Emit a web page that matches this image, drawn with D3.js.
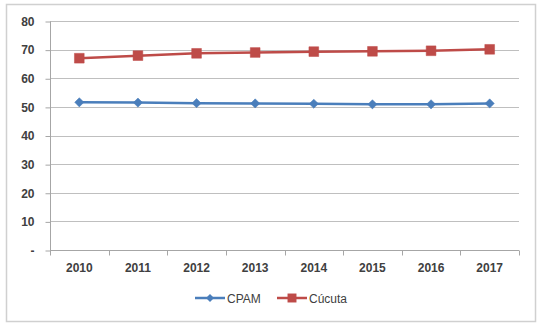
<!DOCTYPE html>
<html>
<head>
<meta charset="utf-8">
<script src="https://cdn.jsdelivr.net/npm/d3@7"></script>
<style>
  html, body { margin: 0; padding: 0; background: #fff; }
  svg { display: block; }
  text { font-family: "Liberation Sans", Arial, sans-serif; fill: #404040; }
</style>
</head>
<body>
<svg id="chart" width="543" height="328"></svg>
<script>
const years = ["2010", "2011", "2012", "2013", "2014", "2015", "2016", "2017"];
const cpam = [51.6, 51.5, 51.3, 51.2, 51.1, 50.9, 50.9, 51.2];
const cucuta = [67.0, 67.9, 68.7, 69.0, 69.3, 69.4, 69.6, 70.1];
const yTicks = [0, 10, 20, 30, 40, 50, 60, 70, 80];
const seriesNames = ["CPAM", "Cúcuta"];
const seriesColors = ["#4a7ebb", "#be4b48"];

(function () {
  const svg = d3.select("#chart");

  // outer chart frame
  svg.append("rect")
    .attr("x", 6.5).attr("y", 4.5)
    .attr("width", 529).attr("height", 317)
    .attr("fill", "#fff").attr("stroke", "#d0d0d0").attr("stroke-width", 1.5);

  const plotLeft = 50, plotRight = 519, plotTop = 21, plotBottom = 250;

  const x = d3.scaleBand().domain(years).range([plotLeft, plotRight]);
  const y = d3.scaleLinear().domain([0, 80]).range([plotBottom, plotTop]);

  // horizontal gridlines
  svg.append("g")
    .selectAll("line")
    .data(yTicks.filter(d => d > 0))
    .join("line")
    .attr("x1", plotLeft).attr("x2", plotRight)
    .attr("y1", d => Math.round(y(d)) + 0.5).attr("y2", d => Math.round(y(d)) + 0.5)
    .attr("stroke", "#bfbfbf").attr("stroke-width", 1);

  // y axis
  const yAxis = d3.axisLeft(y)
    .tickValues(yTicks)
    .tickSize(5)
    .tickPadding(11)
    .tickFormat(d => d === 0 ? "-" : d);
  const gy = svg.append("g")
    .attr("transform", `translate(${plotLeft + 0.5},0.5)`)
    .call(yAxis);
  gy.selectAll("path, line").attr("stroke", "#a6a6a6");
  gy.select(".domain").attr("d", `M0,${plotTop}V${plotBottom}`);
  gy.selectAll("text").attr("font-size", 12).attr("font-weight", "bold").attr("fill", "#404040");

  // x axis with ticks between categories
  const gx = svg.append("g").attr("transform", `translate(0,${plotBottom + 0.5})`);
  gx.append("line")
    .attr("x1", plotLeft).attr("x2", plotRight)
    .attr("stroke", "#a6a6a6");
  const boundaries = years.map(d => x(d)).concat([plotRight]);
  gx.selectAll("line.tick")
    .data(boundaries)
    .join("line")
    .attr("class", "tick")
    .attr("x1", d => Math.round(d) + 0.5).attr("x2", d => Math.round(d) + 0.5)
    .attr("y1", 0).attr("y2", 5)
    .attr("stroke", "#a6a6a6");
  gx.selectAll("text")
    .data(years)
    .join("text")
    .attr("x", d => x(d) + x.bandwidth() / 2)
    .attr("y", 21)
    .attr("text-anchor", "middle")
    .attr("font-size", 12)
    .attr("font-weight", "bold")
    .text(d => d);

  // markers: square, and a square turned 45° for the diamond
  const markerPath = si => d3.symbol().type(d3.symbolSquare).size(si === 0 ? 42 : 95)();
  const markerRot = si => si === 0 ? " rotate(45)" : "";

  // series lines and markers
  const line = d3.line()
    .x((d, i) => x(years[i]) + x.bandwidth() / 2)
    .y(d => y(d));

  const allSeries = [cpam, cucuta];
  allSeries.forEach((vals, si) => {
    svg.append("path")
      .datum(vals)
      .attr("d", line)
      .attr("fill", "none")
      .attr("stroke", seriesColors[si])
      .attr("stroke-width", 2.5);
    svg.append("g")
      .selectAll("path")
      .data(vals)
      .join("path")
      .attr("transform", (d, i) => `translate(${x(years[i]) + x.bandwidth() / 2},${y(d)})${markerRot(si)}`)
      .attr("d", markerPath(si))
      .attr("fill", seriesColors[si])
      .attr("stroke", seriesColors[si])
      .attr("stroke-width", 0.5);
  });

  // legend
  const legend = svg.append("g").attr("transform", "translate(0,298)");
  const legendItems = [
    { x1: 195, x2: 225, tx: 227 },
    { x1: 277, x2: 307, tx: 309 }
  ];
  legendItems.forEach((it, si) => {
    legend.append("line")
      .attr("x1", it.x1).attr("x2", it.x2)
      .attr("y1", 0).attr("y2", 0)
      .attr("stroke", seriesColors[si]).attr("stroke-width", 2.5);
    legend.append("path")
      .attr("transform", `translate(${(it.x1 + it.x2) / 2},0)${markerRot(si)}`)
      .attr("d", d3.symbol().type(d3.symbolSquare).size(si === 0 ? 32 : 80)())
      .attr("fill", seriesColors[si]);
    legend.append("text")
      .attr("x", it.tx).attr("y", 4.5)
      .attr("font-size", 12)
      .text(seriesNames[si]);
  });
})();
</script>
</body>
</html>
